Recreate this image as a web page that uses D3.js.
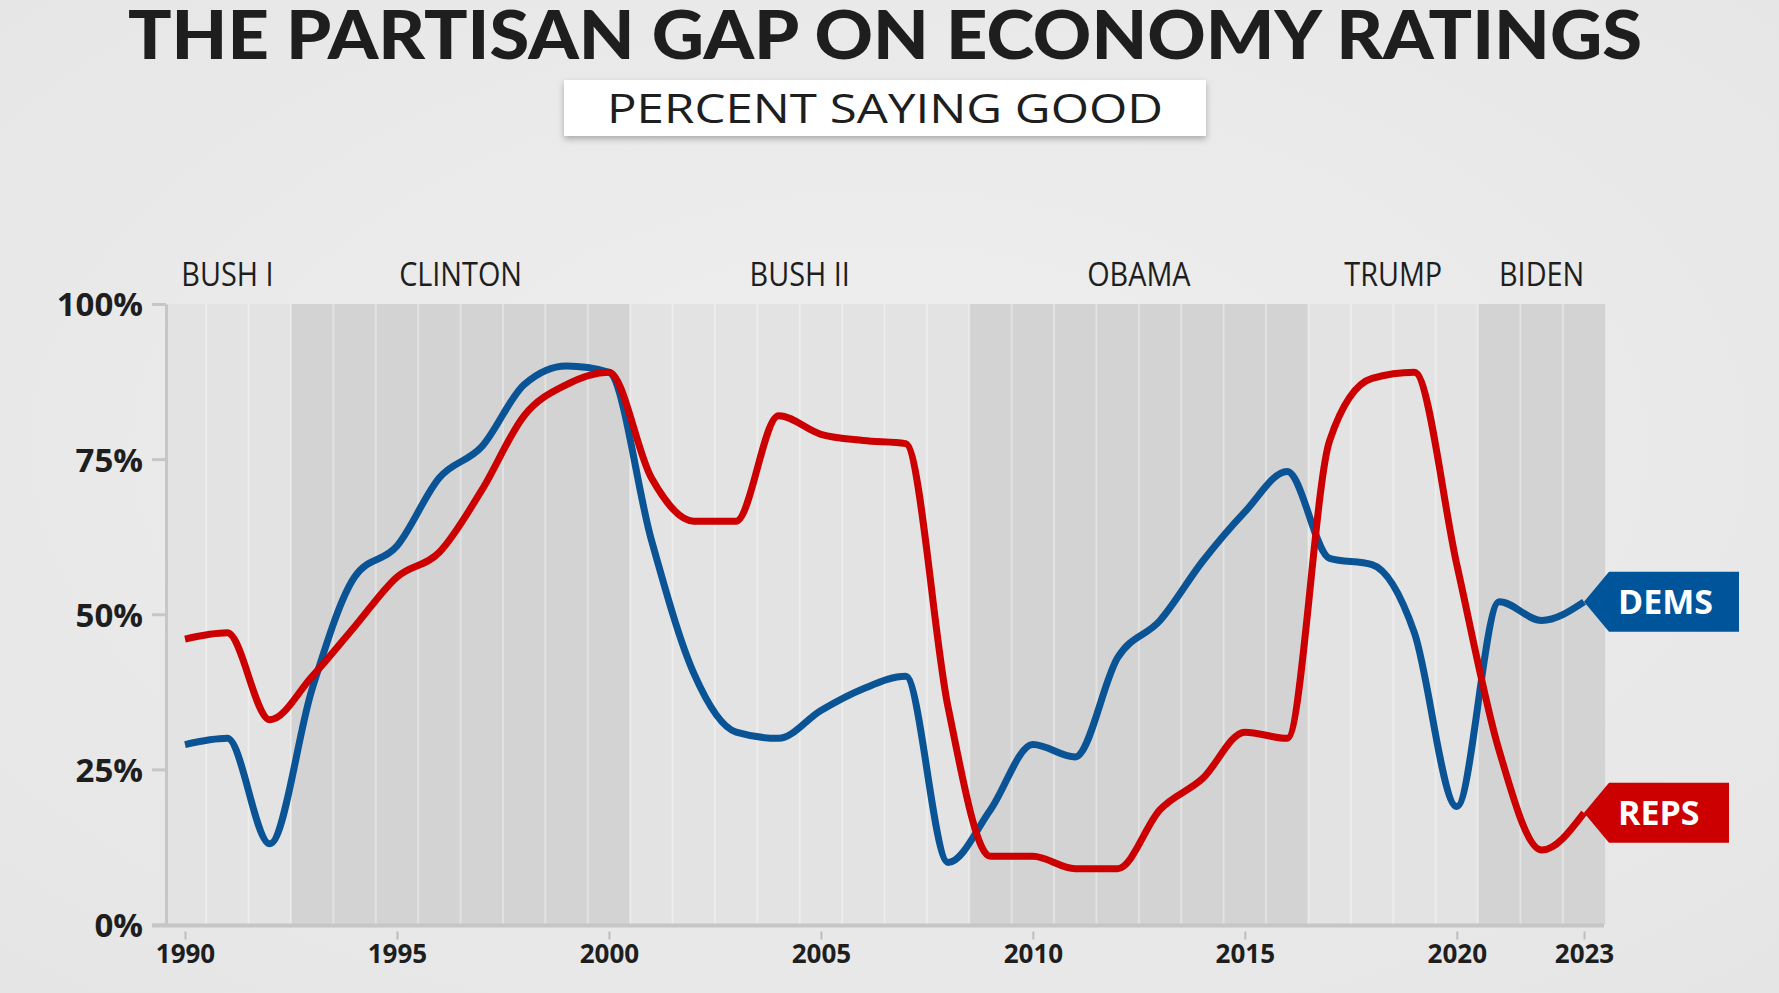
<!DOCTYPE html>
<html>
<head>
<meta charset="utf-8">
<script src="https://cdn.jsdelivr.net/npm/d3@7"></script>
<style>
  html, body { margin: 0; padding: 0; background: #ebebeb; }
  svg { display: block; }
</style>
</head>
<body>
<svg id="chart" width="1779" height="993"></svg>
<script>
// ---------- DATA ----------
const years = [1990, 1991, 1992, 1993, 1994, 1995, 1996, 1997, 1998, 1999,
               2000, 2001, 2002, 2003, 2004, 2005, 2006, 2007, 2008, 2009,
               2010, 2011, 2012, 2013, 2014, 2015, 2016, 2017, 2018, 2019,
               2020, 2021, 2022, 2023];
const dems = [29, 30, 13, 38, 56, 61, 72, 77, 87, 90,
              89, 62, 40.5, 31, 30, 34.5, 38, 40, 10, 18.5,
              29, 27, 43, 49, 58.5, 66.5, 73, 59, 58, 47,
              19, 52, 49, 52];
const reps = [46, 47, 33, 40, 48, 56, 60, 70, 82, 87,
              89, 72, 65, 65, 82, 79, 78, 77.5, 35, 11,
              11, 9, 9, 18.5, 23.5, 31, 30, 78, 88, 89,
              58, 28, 12, 18];
const presNames = ["BUSH I", "CLINTON", "BUSH II", "OBAMA", "TRUMP", "BIDEN"];
const presStart = [1990, 1993, 2001, 2009, 2017, 2021];
const presEnd   = [1992, 2000, 2008, 2016, 2020, 2023];
const yTicks = [0, 25, 50, 75, 100];
const xTicks = [1990, 1995, 2000, 2005, 2010, 2015, 2020, 2023];
const seriesNames = ["DEMS", "REPS"];
const titleText = "THE PARTISAN GAP ON ECONOMY RATINGS";
const subtitleText = "PERCENT SAYING GOOD";

// ---------- SETUP ----------
const W = 1779, H = 993;
const svg = d3.select("#chart");
const defs = svg.append("defs");

const bg = defs.append("radialGradient").attr("id", "bg").attr("cx", "50%").attr("cy", "45%").attr("r", "75%");
bg.append("stop").attr("offset", "0%").attr("stop-color", "#efefef");
bg.append("stop").attr("offset", "100%").attr("stop-color", "#e5e5e5");
svg.append("rect").attr("width", W).attr("height", H).attr("fill", "url(#bg)");

const shadow = defs.append("filter").attr("id", "shadow").attr("x", "-10%").attr("y", "-30%").attr("width", "120%").attr("height", "170%");
shadow.append("feDropShadow").attr("dx", 0).attr("dy", 3).attr("stdDeviation", 3)
  .attr("flood-color", "#000").attr("flood-opacity", 0.28);

const x = d3.scaleLinear().domain([1990, 2023]).range([185, 1584]);
const y = d3.scaleLinear().domain([0, 100]).range([924.5, 304]);
const axisX = 166;

// ---------- BANDS ----------
const presIdx = d3.range(presNames.length);
const bandG = svg.append("g");
bandG.selectAll("rect.band").data(presIdx).join("rect")
  .attr("class", "band")
  .attr("x", i => Math.max(axisX, x(presStart[i] - 0.5)))
  .attr("width", i => x(presEnd[i] + 0.5) - Math.max(axisX, x(presStart[i] - 0.5)))
  .attr("y", y(100))
  .attr("height", y(0) - y(100))
  .attr("fill", i => i % 2 === 0 ? "#e3e3e3" : "#d3d3d3");

// year separators
bandG.selectAll("line.sep").data(years.slice(0, -1)).join("line")
  .attr("class", "sep")
  .attr("x1", d => x(d + 0.5)).attr("x2", d => x(d + 0.5))
  .attr("y1", y(100)).attr("y2", y(0))
  .attr("stroke", "#ffffff").attr("stroke-opacity", 0.35).attr("stroke-width", 2);

// president labels
function condense(sel, factor) {
  sel.each(function () {
    const w = this.getComputedTextLength();
    d3.select(this).attr("textLength", w * factor).attr("lengthAdjust", "spacingAndGlyphs");
  });
}
svg.append("g").selectAll("text").data(presIdx).join("text")
  .attr("x", i => x((presStart[i] + presEnd[i]) / 2))
  .attr("y", 286)
  .attr("text-anchor", "middle")
  .attr("font-family", "'Open Sans', sans-serif")
  .attr("font-size", 32)
  .attr("fill", "#1e1e1e")
  .text(i => presNames[i])
  .call(condense, 0.9);

// ---------- AXES ----------
const yAxis = d3.axisLeft(y).tickValues(yTicks).tickSize(14).tickSizeOuter(0).tickPadding(9)
  .tickFormat(d => d + "%");
const gy = svg.append("g").attr("transform", `translate(${axisX},0)`).call(yAxis);
gy.select(".domain").attr("stroke", "#c6c6c6").attr("stroke-width", 3);
gy.selectAll(".tick line").attr("stroke", "#c6c6c6").attr("stroke-width", 3);
gy.selectAll(".tick text")
  .attr("font-family", "'Open Sans', sans-serif").attr("font-weight", 700)
  .attr("font-size", 33).attr("fill", "#1e1e1e").attr("dy", "0.36em");

// bottom axis line
svg.append("line").attr("x1", 152).attr("x2", 1604).attr("y1", y(0) + 1).attr("y2", y(0) + 1)
  .attr("stroke", "#c6c6c6").attr("stroke-width", 4);

const xAxis = d3.axisBottom(x).tickValues(xTicks).tickFormat(d3.format("d")).tickSize(8).tickSizeOuter(0);
const gx = svg.append("g").attr("transform", `translate(0,${y(0)})`).call(xAxis);
gx.select(".domain").remove();
gx.selectAll(".tick line").attr("y1", 7).attr("y2", 15).attr("stroke", "#bdbdbd").attr("stroke-width", 2);
gx.selectAll(".tick text")
  .attr("y", 38.5).attr("dy", 0)
  .attr("font-family", "'Open Sans', sans-serif").attr("font-weight", 700)
  .attr("font-size", 26).attr("fill", "#1e1e1e");

// ---------- LINES ----------
const line = d3.line().x((d, i) => x(years[i])).y(d => y(d)).curve(d3.curveMonotoneX);
const colors = ["#0a5496", "#cc0000"];
const series = [dems, reps];
svg.append("g").selectAll("path").data(series).join("path")
  .attr("d", d => line(d))
  .attr("fill", "none")
  .attr("stroke", (d, i) => colors[i])
  .attr("stroke-width", 7)
  .attr("stroke-linejoin", "round");

// ---------- END LABELS ----------
const lastYear = years[years.length - 1];
const labG = svg.append("g");
series.forEach((s, i) => {
  const tx = x(lastYear), ty = y(s[s.length - 1]);
  const boxW = i === 0 ? 155 : 145;
  const pts = [[tx, ty], [tx + 25, ty - 30], [tx + boxW, ty - 30], [tx + boxW, ty + 30], [tx + 25, ty + 30]];
  labG.append("polygon").attr("points", pts.map(p => p.join(",")).join(" ")).attr("fill", i === 0 ? "#00549a" : "#cc0000");
  labG.append("text").attr("x", tx + 34).attr("y", ty + 12.5)
    .attr("font-family", "'Open Sans', sans-serif").attr("font-weight", 700)
    .attr("font-size", 34).attr("fill", "#ffffff").text(seriesNames[i]);
});

// ---------- TITLE ----------
svg.append("text").attr("x", 885).attr("y", 59).attr("text-anchor", "middle")
  .attr("font-family", "Lato, Roboto, sans-serif").attr("font-weight", 900)
  .attr("font-size", 66).attr("fill", "#1e1e1e")
  .attr("textLength", 1514).attr("lengthAdjust", "spacingAndGlyphs")
  .text(titleText);

svg.append("rect").attr("x", 564).attr("y", 80).attr("width", 642).attr("height", 56)
  .attr("fill", "#ffffff").attr("filter", "url(#shadow)");
svg.append("text").attr("x", 885).attr("y", 122.5).attr("text-anchor", "middle")
  .attr("font-family", "'Open Sans', sans-serif").attr("font-weight", 400)
  .attr("font-size", 41).attr("fill", "#1e1e1e")
  .attr("textLength", 556).attr("lengthAdjust", "spacingAndGlyphs")
  .text(subtitleText);
</script>
</body>
</html>
